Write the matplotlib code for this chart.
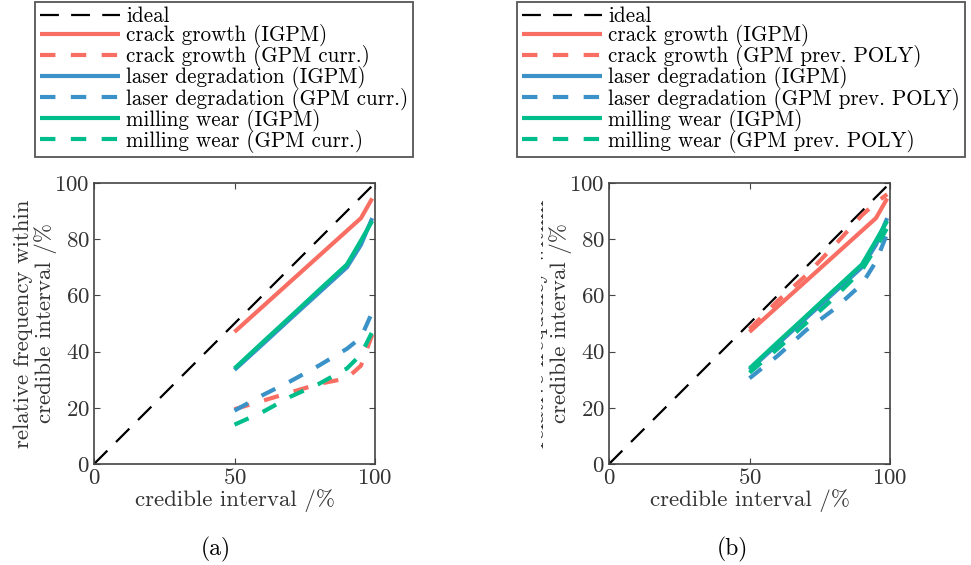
import numpy as np
import matplotlib
matplotlib.use('Agg')
import matplotlib.pyplot as plt
from matplotlib.transforms import Bbox, TransformedBbox

plt.rcParams['font.family'] = ['cmr10', 'DejaVu Serif']
plt.rcParams['mathtext.fontset'] = 'cm'
plt.rcParams['axes.formatter.use_mathtext'] = True

ci = [50, 60, 70, 80, 90, 95, 99]

crack_igpm = [47, 56, 65, 74, 83, 87.5, 94.5]
laser_igpm = [33.5, 42.6, 51.8, 60.9, 70, 78, 87.5]
milling_igpm = [34, 43.3, 52.5, 61.8, 71, 79.5, 86.5]

# panel (a): GPM curr.
crack_curr = [19.5, 22.5, 25.5, 28.5, 30.5, 35, 46]
laser_curr = [19, 24.5, 29.5, 35, 41, 45, 54]
milling_curr = [14, 18.5, 24, 28.5, 34, 39, 47]

# panel (b): GPM prev. POLY
crack_poly = [48, 58, 67, 77.5, 88.5, 93, 96]
laser_poly = [30.5, 38.5, 47.5, 55, 64, 72, 82]
milling_poly = [32.5, 41, 50, 59, 69, 77, 84]

c_red = '#F96E63'
c_blue = '#3A92C8'
c_green = '#00BE8C'
Fontsize = 16.5
Legsize = 15.2

fig = plt.figure(figsize=(9.71, 5.65), dpi=100)
ax_a = fig.add_axes([94 / 971, 1 - 464 / 565, 281 / 971, 281 / 565])
ax_b = fig.add_axes([609 / 971, 1 - 464 / 565, 281 / 971, 281 / 565])

panels = [
    (ax_a, 'GPM curr.', crack_curr, laser_curr, milling_curr, 35, '(a)', 216),
    (ax_b, 'GPM prev. POLY', crack_poly, laser_poly, milling_poly, 517, '(b)', 732),
]

for ax, name, crack, laser, milling, leg_x, tag, tag_x in panels:
    h = []
    h += ax.plot([0, 100], [0, 100], color='black', lw=1.6, dashes=(8.5, 5.5),
                 label='ideal')
    h += ax.plot(ci, crack_igpm, color=c_red, lw=3, solid_capstyle='butt',
                 label='crack growth (IGPM)')
    h += ax.plot(ci, crack, color=c_red, lw=3, dashes=(3.7, 3.7),
                 label='crack growth (' + name + ')')
    h += ax.plot(ci, laser_igpm, color=c_blue, lw=3, solid_capstyle='butt',
                 label='laser degradation (IGPM)')
    h += ax.plot(ci, laser, color=c_blue, lw=3, dashes=(3.7, 3.7),
                 label='laser degradation (' + name + ')')
    h += ax.plot(ci, milling_igpm, color=c_green, lw=3, solid_capstyle='butt',
                 label='milling wear (IGPM)')
    h += ax.plot(ci, milling, color=c_green, lw=3, dashes=(3.7, 3.7),
                 label='milling wear (' + name + ')')

    ax.set_xlim(0, 100)
    ax.set_ylim(0, 100)
    ax.set_xticks([0, 50, 100])
    ax.set_yticks([0, 20, 40, 60, 80, 100])
    ax.tick_params(direction='in', top=True, right=True, length=4,
                   width=0.8, color='#444444', labelsize=Fontsize, pad=3,
                   labelcolor='#333333')
    for s in ax.spines.values():
        s.set_color('#444444')
        s.set_linewidth(1.2)
    ax.set_xlabel('credible interval /%', fontsize=Fontsize, color='#333333')
    ax.xaxis.set_label_coords(0.5, -0.09)
    ylab = ax.set_ylabel('relative frequency within\ncredible interval /%',
                         fontsize=Fontsize, color='#333333', linespacing=1.05)
    ax.yaxis.set_label_coords(-0.132, 0.5)
    if ax is ax_b:
        # right figure is cropped, so only part of its label shows
        ylab.set_clip_box(TransformedBbox(Bbox([[541 / 971, 0], [1, 1]]),
                                          fig.transFigure))
        ylab.set_clip_on(True)

    leg = fig.legend(handles=h, loc='upper left',
                     bbox_to_anchor=(leg_x / 971, 1 - 2 / 565),
                     fontsize=Legsize, handlelength=3.8, handletextpad=0.3,
                     labelspacing=-0.09, borderpad=0.22, borderaxespad=0,
                     fancybox=False, framealpha=1)
    leg.get_frame().set_edgecolor('#555555')
    leg.get_frame().set_linewidth(1.3)

    fig.text(tag_x / 971, 1 - 549 / 565, tag, fontsize=17, ha='center',
             va='center')

plt.savefig('out.png', dpi=100)
